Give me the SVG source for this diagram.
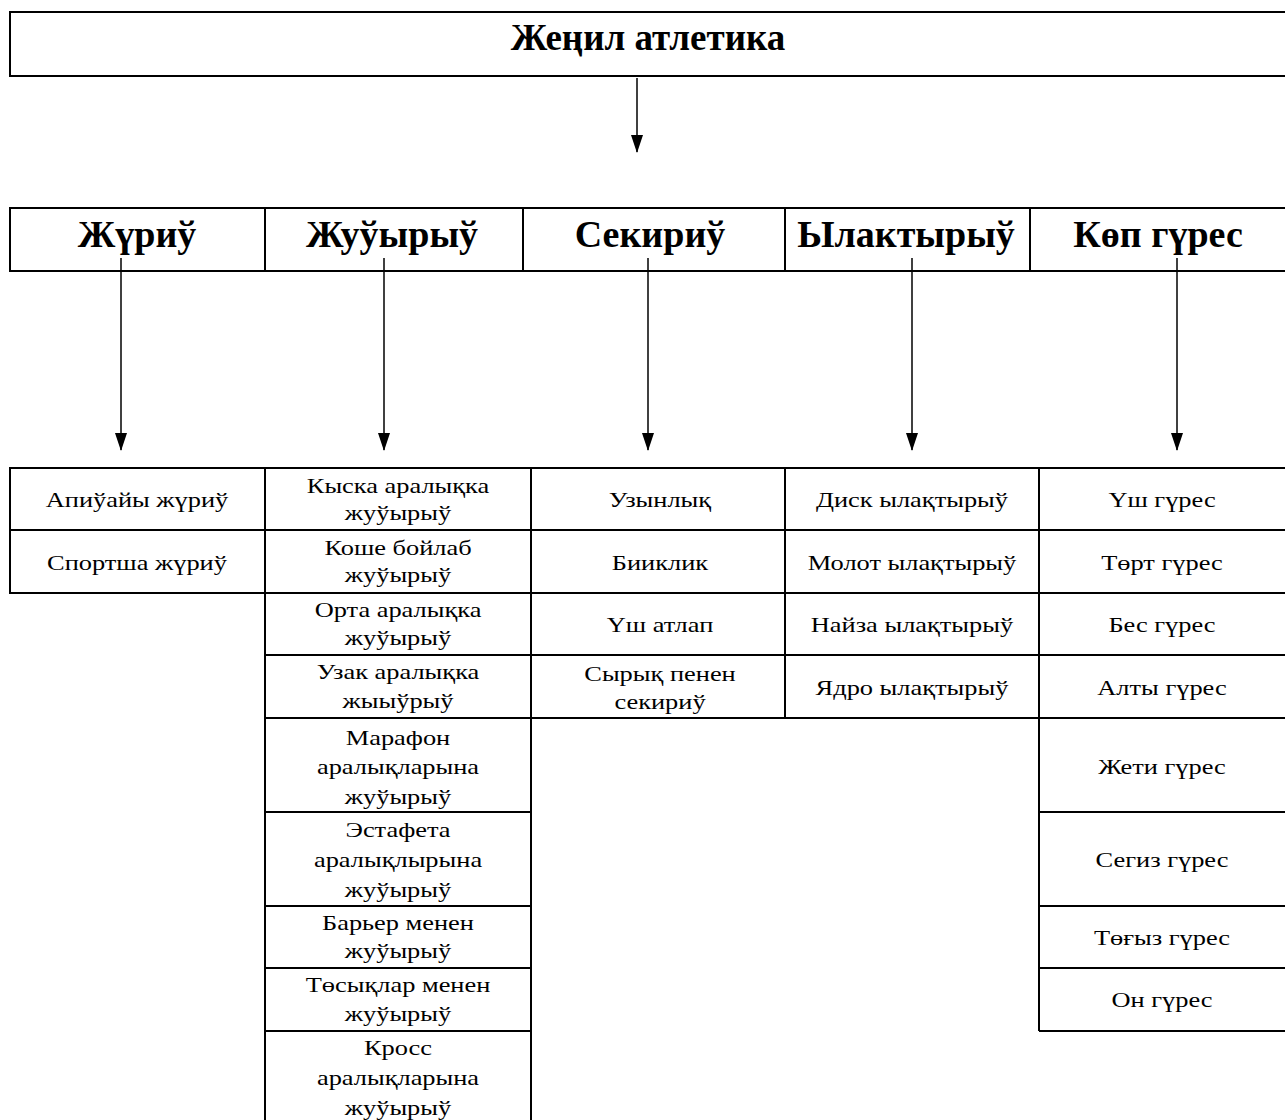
<svg xmlns="http://www.w3.org/2000/svg" width="1285" height="1120" viewBox="0 0 1285 1120">
<style>
.box{fill:none;stroke:#000;stroke-width:2}
.cell{fill:none;stroke:#000;stroke-width:2}
.t{font-family:"Liberation Serif","Times New Roman",serif;font-size:22px;text-anchor:middle;fill:#000}
.h{font-family:"Liberation Serif","Times New Roman",serif;font-size:38px;font-weight:bold;text-anchor:middle;fill:#000}
.ti{font-family:"Liberation Serif","Times New Roman",serif;font-size:37px;font-weight:bold;text-anchor:middle;fill:#000}
.c{stroke:#000;stroke-width:1.5;fill:none}
</style>
<defs>
<marker id="ah" markerWidth="18" markerHeight="12" refX="17" refY="6" orient="auto" markerUnits="userSpaceOnUse" viewBox="0 0 18 12">
<path d="M0,0 L18,6 L0,12 Z" fill="#000"/>
</marker>
</defs>
<rect width="1285" height="1120" fill="#fff"/>

<g id="root">
<path class="box" d="M1286,12 H10 V76 H1286"/>
<text class="ti" x="648" y="50">Жеңил атлетика</text>
</g>

<g id="headers">
<path class="box" d="M1286,208 H10 V271 H1286"/>
<line class="box" x1="265" y1="208" x2="265" y2="271"/>
<line class="box" x1="523" y1="208" x2="523" y2="271"/>
<line class="box" x1="785" y1="208" x2="785" y2="271"/>
<line class="box" x1="1030" y1="208" x2="1030" y2="271"/>
<g id="h-walk"><text class="h" x="137" y="247">Жүриў</text></g>
<g id="h-run"><text class="h" x="392" y="247">Жуўырыў</text></g>
<g id="h-jump"><text class="h" x="650" y="247">Секириў</text></g>
<g id="h-throw"><text class="h" x="906" y="247">Ылактырыў</text></g>
<g id="h-multi"><text class="h" x="1158" y="247">Көп гүрес</text></g>
</g>

<g id="connectors">
<line class="c" x1="637" y1="78" x2="637" y2="152" marker-end="url(#ah)"/>
<line class="c" x1="121" y1="258" x2="121" y2="450" marker-end="url(#ah)"/>
<line class="c" x1="384" y1="258" x2="384" y2="450" marker-end="url(#ah)"/>
<line class="c" x1="648" y1="258" x2="648" y2="450" marker-end="url(#ah)"/>
<line class="c" x1="912" y1="258" x2="912" y2="450" marker-end="url(#ah)"/>
<line class="c" x1="1177" y1="258" x2="1177" y2="450" marker-end="url(#ah)"/>
</g>

<g id="walk">
<rect class="cell" x="10" y="468" width="255" height="62"/>
<rect class="cell" x="10" y="530" width="255" height="63"/>
<text class="t" transform="translate(137,507) scale(1.2,1)">Апиўайы жүриў</text>
<text class="t" transform="translate(137,570) scale(1.2,1)">Спортша жүриў</text>
</g>

<g id="run">
<rect class="cell" x="265" y="468" width="266" height="62"/>
<rect class="cell" x="265" y="530" width="266" height="63"/>
<rect class="cell" x="265" y="593" width="266" height="62"/>
<rect class="cell" x="265" y="655" width="266" height="63"/>
<rect class="cell" x="265" y="718" width="266" height="94"/>
<rect class="cell" x="265" y="812" width="266" height="94"/>
<rect class="cell" x="265" y="906" width="266" height="62"/>
<rect class="cell" x="265" y="968" width="266" height="63"/>
<path class="cell" d="M265,1031 H531 M265,1031 V1121 M531,1031 V1121"/>
<text class="t" transform="translate(398,493) scale(1.2,1)">Кыска аралықка</text>
<text class="t" transform="translate(398,520) scale(1.2,1)">жуўырыў</text>
<text class="t" transform="translate(398,555) scale(1.2,1)">Коше бойлаб</text>
<text class="t" transform="translate(398,582) scale(1.2,1)">жуўырыў</text>
<text class="t" transform="translate(398,617) scale(1.2,1)">Орта аралықка</text>
<text class="t" transform="translate(398,645) scale(1.2,1)">жуўырыў</text>
<text class="t" transform="translate(398,679) scale(1.2,1)">Узак аралықка</text>
<text class="t" transform="translate(398,708) scale(1.2,1)">жыыўрыў</text>
<text class="t" transform="translate(398,745) scale(1.2,1)">Марафон</text>
<text class="t" transform="translate(398,774) scale(1.2,1)">аралықларына</text>
<text class="t" transform="translate(398,804) scale(1.2,1)">жуўырыў</text>
<text class="t" transform="translate(398,837) scale(1.2,1)">Эстафета</text>
<text class="t" transform="translate(398,867) scale(1.2,1)">аралықлырына</text>
<text class="t" transform="translate(398,897) scale(1.2,1)">жуўырыў</text>
<text class="t" transform="translate(398,930) scale(1.2,1)">Барьер менен</text>
<text class="t" transform="translate(398,958) scale(1.2,1)">жуўырыў</text>
<text class="t" transform="translate(398,992) scale(1.2,1)">Төсықлар менен</text>
<text class="t" transform="translate(398,1021) scale(1.2,1)">жуўырыў</text>
<text class="t" transform="translate(398,1055) scale(1.2,1)">Кросс</text>
<text class="t" transform="translate(398,1085) scale(1.2,1)">аралықларына</text>
<text class="t" transform="translate(398,1115) scale(1.2,1)">жуўырыў</text>
</g>

<g id="jump">
<rect class="cell" x="531" y="468" width="254" height="62"/>
<rect class="cell" x="531" y="530" width="254" height="63"/>
<rect class="cell" x="531" y="593" width="254" height="62"/>
<rect class="cell" x="531" y="655" width="254" height="63"/>
<text class="t" transform="translate(660,507) scale(1.2,1)">Узынлық</text>
<text class="t" transform="translate(660,570) scale(1.2,1)">Бииклик</text>
<text class="t" transform="translate(660,632) scale(1.2,1)">Үш атлап</text>
<text class="t" transform="translate(660,681) scale(1.2,1)">Сырық пенен</text>
<text class="t" transform="translate(660,709) scale(1.2,1)">секириў</text>
</g>

<g id="throw">
<rect class="cell" x="785" y="468" width="254" height="62"/>
<rect class="cell" x="785" y="530" width="254" height="63"/>
<rect class="cell" x="785" y="593" width="254" height="62"/>
<rect class="cell" x="785" y="655" width="254" height="63"/>
<text class="t" transform="translate(912,507) scale(1.2,1)">Диск ылақтырыў</text>
<text class="t" transform="translate(912,570) scale(1.2,1)">Молот ылақтырыў</text>
<text class="t" transform="translate(912,632) scale(1.2,1)">Найза ылақтырыў</text>
<text class="t" transform="translate(912,695) scale(1.2,1)">Ядро ылақтырыў</text>
</g>

<g id="multi">
<path class="cell" d="M1039,468 V1031 M1039,468 H1286 M1039,530 H1286 M1039,593 H1286 M1039,655 H1286 M1039,718 H1286 M1039,812 H1286 M1039,906 H1286 M1039,968 H1286 M1039,1031 H1286"/>
<text class="t" transform="translate(1162,507) scale(1.2,1)">Үш гүрес</text>
<text class="t" transform="translate(1162,570) scale(1.2,1)">Төрт гүрес</text>
<text class="t" transform="translate(1162,632) scale(1.2,1)">Бес гүрес</text>
<text class="t" transform="translate(1162,695) scale(1.2,1)">Алты гүрес</text>
<text class="t" transform="translate(1162,774) scale(1.2,1)">Жети гүрес</text>
<text class="t" transform="translate(1162,867) scale(1.2,1)">Сегиз гүрес</text>
<text class="t" transform="translate(1162,945) scale(1.2,1)">Төғыз гүрес</text>
<text class="t" transform="translate(1162,1007) scale(1.2,1)">Он гүрес</text>
</g>
</svg>
